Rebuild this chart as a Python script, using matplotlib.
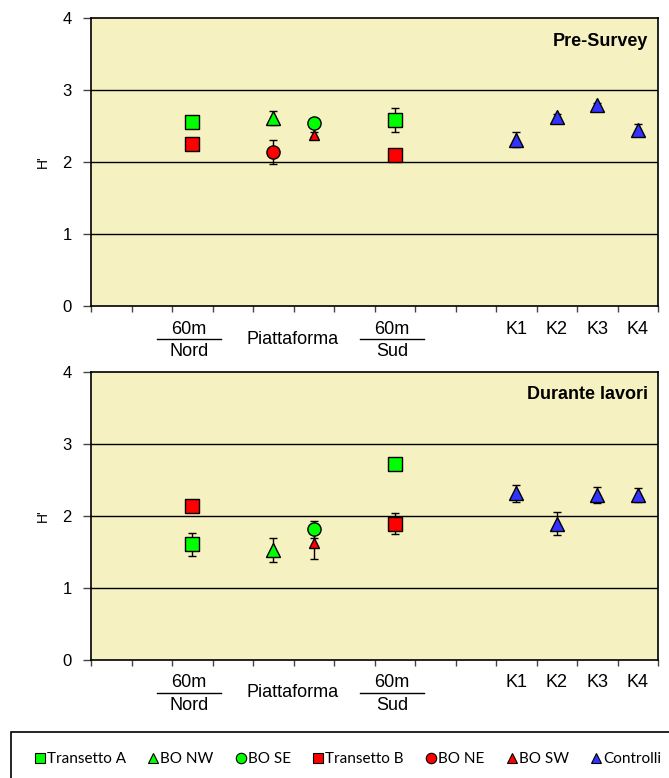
import matplotlib
matplotlib.use("Agg")
import matplotlib.pyplot as plt
from matplotlib.lines import Line2D
from matplotlib.patches import Rectangle
import matplotlib.transforms as mtransforms

plt.rcParams['font.family'] = ['Liberation Sans', 'DejaVu Sans']

# Station positions along the x axis
x_nord = [2.5]
x_piatt_w = [4.5]
x_piatt_e = [5.5]
x_sud = [7.5]
x_ctrl = [10.5, 11.5, 12.5, 13.5]
ctrl_labels = ["K1", "K2", "K3", "K4"]

# Pre-Survey: Shannon diversity H' (mean and error)
pre_tA = [2.56, 2.58]
pre_tA_err = [0.03, 0.17]
pre_tB = [2.25, 2.10]
pre_tB_err = [0.03, 0.03]
pre_nw = [2.61]
pre_nw_err = [0.10]
pre_ne = [2.14]
pre_ne_err = [0.165]
pre_se = [2.54]
pre_se_err = [0.04]
pre_sw = [2.38]
pre_sw_err = [0.03]
pre_ctrl = [2.31, 2.62, 2.79, 2.45]
pre_ctrl_err = [0.10, 0.05, 0.03, 0.08]

# Durante lavori
dur_tA = [1.60, 2.72]
dur_tA_err = [0.155, 0.06]
dur_tB = [2.14, 1.89]
dur_tB_err = [0.03, 0.145]
dur_nw = [1.52]
dur_nw_err = [0.17]
dur_se = [1.81]
dur_se_err = [0.12]
dur_sw = [1.62]
dur_sw_err = [0.22]
dur_ctrl = [2.31, 1.89, 2.29, 2.29]
dur_ctrl_err = [0.12, 0.165, 0.11, 0.10]

GREEN = "#00FF00"
RED = "#FF0000"
BLUE = "#3333FF"
BG = "#F5F1C0"

W, H = 669, 778
fig = plt.figure(figsize=(W / 100, H / 100), dpi=100)


def series(ax, x, y, err, marker, color, ms, z):
    ax.errorbar(x, y, yerr=err, fmt=marker, color="black", ecolor="black",
                elinewidth=1.0, capsize=3, capthick=1.0, markersize=ms,
                markerfacecolor=color, markeredgecolor="black",
                markeredgewidth=1.0, zorder=z)


def setup(ax, title):
    ax.set_facecolor(BG)
    ax.set_xlim(0, 14)
    ax.set_ylim(0, 4)
    ax.set_xticks(range(0, 15))
    ax.set_xticklabels([])
    ax.set_yticks([0, 1, 2, 3, 4])
    ax.tick_params(axis="x", direction="out", length=4, width=1, color="#444444")
    ax.tick_params(axis="y", direction="out", length=6, width=1, labelsize=12,
                   color="#444444", pad=8)
    for y in (1, 2, 3):
        ax.axhline(y, color="black", lw=1.0, zorder=1)
    for s in ax.spines.values():
        s.set_color("black")
        s.set_linewidth(1.2)
    ax.set_ylabel("H'", fontsize=10)
    ax.yaxis.set_label_coords(-0.072, 0.5)
    ax.text(0.982, 0.92, title, transform=ax.transAxes, ha="right",
            va="center", fontsize=13, fontweight="bold")
    # category labels below the axis
    tr = mtransforms.blended_transform_factory(ax.transData, ax.transAxes)
    for xc, word in ((2.42, "Nord"), (7.43, "Sud")):
        ax.text(xc, -0.080, "60m", transform=tr, ha="center", va="center",
                fontsize=13)
        ax.text(xc, -0.159, word, transform=tr, ha="center", va="center",
                fontsize=13)
        ax.add_line(Line2D([xc - 0.8, xc + 0.8], [-0.115, -0.115],
                           transform=tr, color="black", lw=1.0,
                           clip_on=False))
    ax.text(4.97, -0.115, "Piattaforma", transform=tr, ha="center",
            va="center", fontsize=13)
    for xc, lab in zip(x_ctrl, ctrl_labels):
        ax.text(xc, -0.080, lab, transform=tr, ha="center", va="center",
                fontsize=13)


ax1 = fig.add_axes([91 / W, 1 - 306 / H, 567 / W, 288 / H])
setup(ax1, "Pre-Survey")
series(ax1, x_nord + x_sud, pre_tA, pre_tA_err, "s", GREEN, 9.5, 3)
series(ax1, x_piatt_w, pre_nw, pre_nw_err, "^", GREEN, 9.5, 3)
series(ax1, x_piatt_e, pre_sw, pre_sw_err, "^", RED, 6.5, 3)
series(ax1, x_piatt_e, pre_se, pre_se_err, "o", GREEN, 9.5, 4)
series(ax1, x_nord + x_sud, pre_tB, pre_tB_err, "s", RED, 9.5, 4)
series(ax1, x_piatt_w, pre_ne, pre_ne_err, "o", RED, 9.5, 4)
series(ax1, x_ctrl, pre_ctrl, pre_ctrl_err, "^", BLUE, 9.5, 4)

ax2 = fig.add_axes([91 / W, 1 - 659.5 / H, 567 / W, 287.8 / H])
setup(ax2, "Durante lavori")
series(ax2, x_nord + x_sud, dur_tA, dur_tA_err, "s", GREEN, 9.5, 3)
series(ax2, x_piatt_w, dur_nw, dur_nw_err, "^", GREEN, 9.5, 3)
series(ax2, x_piatt_e, dur_sw, dur_sw_err, "^", RED, 6.5, 3)
series(ax2, x_piatt_e, dur_se, dur_se_err, "o", GREEN, 9.5, 4)
series(ax2, x_nord + x_sud, dur_tB, dur_tB_err, "s", RED, 9.5, 4)
series(ax2, x_ctrl, dur_ctrl, dur_ctrl_err, "^", BLUE, 9.5, 4)

# Legend in a framed box at the bottom
fig.patches.append(Rectangle((11 / W, -0.02), 1.0, (H - 732) / H + 0.02,
                             transform=fig.transFigure, fill=False,
                             edgecolor="black", lw=1.2))
legend_items = [
    ("s", GREEN, 7.5, "Transetto A"),
    ("^", GREEN, 6.5, "BO NW"),
    ("o", GREEN, 7.5, "BO SE"),
    ("s", RED, 7.5, "Transetto B"),
    ("o", RED, 7.5, "BO NE"),
    ("^", RED, 6.5, "BO SW"),
    ("^", BLUE, 6.5, "Controlli"),
]
handles = [Line2D([], [], linestyle="none", marker=m, markerfacecolor=c,
                  markeredgecolor="black", markeredgewidth=0.8, markersize=s,
                  label=lab) for m, c, s, lab in legend_items]
fig.legend(handles=handles, loc="center", bbox_to_anchor=(348 / W, 1 - 759 / H),
           ncol=7, frameon=False, handlelength=0.6, handletextpad=0.15,
           columnspacing=1.5, prop={"family": "Lato", "size": 11})

fig.savefig("out.png", dpi=100)
